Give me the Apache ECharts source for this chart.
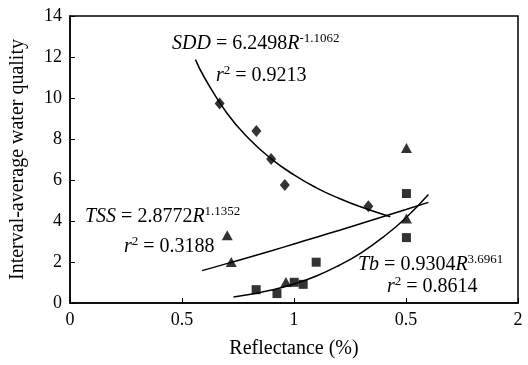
<!DOCTYPE html>
<html>
<head>
<meta charset="utf-8">
<script src="https://cdn.jsdelivr.net/npm/echarts@6/dist/echarts.min.js"></script>
<style>
  html, body { margin: 0; padding: 0; background: #fff; }
  #chart { width: 528px; height: 365px; }
</style>
</head>
<body>
<div id="chart"></div>
<script>
// measured points
var sddX = [0.668, 0.832, 0.898, 0.959, 1.332];
var sddY = [9.73, 8.39, 7.02, 5.76, 4.72];
var tssX = [0.702, 0.72, 0.964, 1.502, 1.502];
var tssY = [3.30, 2.00, 1.02, 7.56, 4.12];
var tbX = [0.831, 0.924, 1.001, 1.041, 1.099, 1.502, 1.502];
var tbY = [0.65, 0.46, 1.01, 0.91, 1.99, 5.34, 3.19];

// fitted curves
var sddFitX = [0.56, 0.6, 0.7, 0.8, 0.9, 1.0, 1.1, 1.2, 1.3, 1.43];
var sddFitY = [11.87, 11.00, 9.27, 8.00, 7.02, 6.25, 5.62, 5.11, 4.68, 4.21];
var tssFitX = [0.59, 0.7, 0.8, 0.9, 1.0, 1.1, 1.2, 1.3, 1.4, 1.5, 1.6];
var tssFitY = [1.58, 1.92, 2.23, 2.55, 2.88, 3.21, 3.54, 3.88, 4.22, 4.56, 4.91];
var tbFitX = [0.73, 0.8, 0.9, 1.0, 1.1, 1.2, 1.3, 1.4, 1.5, 1.6];
var tbFitY = [0.29, 0.41, 0.63, 0.93, 1.32, 1.83, 2.45, 3.23, 4.16, 5.29];

// tick labels as printed on the figure
var xTickLabels = {'0': '0', '0.5': '0.5', '1': '1', '1.5': '0.5', '2': '2'};

function zip(xs, ys) {
    var out = [];
    for (var i = 0; i < xs.length; i++) out.push([xs[i], ys[i]]);
    return out;
}

var font = '"Liberation Serif", "Times New Roman", serif';
var eqRich = {
    i: {fontFamily: font, fontSize: 20, fontStyle: 'italic', color: '#000', lineHeight: 22, verticalAlign: 'bottom'},
    n: {fontFamily: font, fontSize: 20, color: '#000', lineHeight: 22, verticalAlign: 'bottom'},
    s: {fontFamily: font, fontSize: 13, color: '#000', lineHeight: 13, verticalAlign: 'top'}
};

function eqText(left, top, str) {
    return {
        type: 'text', left: left, top: top,
        style: {text: str, rich: eqRich, fill: '#000'}
    };
}

var myChart = echarts.init(document.getElementById('chart'));

var lineStyle = {color: '#000', width: 1.5};

var option = {
    animation: false,
    backgroundColor: '#fff',
    grid: {
        left: 68, right: 10, top: 16, bottom: 62,
        show: true, borderColor: '#000', borderWidth: 1.5
    },
    xAxis: {
        type: 'value', min: 0, max: 2, interval: 0.5,
        name: 'Reflectance (%)', nameLocation: 'middle', nameGap: 36,
        nameTextStyle: {fontFamily: font, fontSize: 20, color: '#000'},
        axisLine: {lineStyle: {color: '#000', width: 1.5}},
        axisTick: {inside: true, length: 5, lineStyle: {color: '#000'}},
        axisLabel: {
            fontFamily: font, fontSize: 18, color: '#000', margin: 8,
            formatter: function (v) { return xTickLabels[String(v)]; }
        },
        splitLine: {show: false}
    },
    yAxis: {
        type: 'value', min: 0, max: 14, interval: 2,
        name: 'Interval-average water quality', nameLocation: 'middle', nameGap: 42,
        nameTextStyle: {fontFamily: font, fontSize: 20, color: '#000'},
        axisLine: {lineStyle: {color: '#000', width: 1.5}},
        axisTick: {inside: true, length: 5, lineStyle: {color: '#000'}},
        axisLabel: {fontFamily: font, fontSize: 18, color: '#000', margin: 8},
        splitLine: {show: false}
    },
    graphic: [
        eqText(172, 32, '{i|SDD}{n| = 6.2498}{i|R}{s|-1.1062}'),
        eqText(216, 64, '{i|r}{s|2}{n| = 0.9213}'),
        eqText(85, 205, '{i|TSS}{n| = 2.8772}{i|R}{s|1.1352}'),
        eqText(124, 235, '{i|r}{s|2}{n| = 0.3188}'),
        eqText(358, 253, '{i|Tb}{n| = 0.9304}{i|R}{s|3.6961}'),
        eqText(387, 275, '{i|r}{s|2}{n| = 0.8614}')
    ],
    series: [
        {type: 'line', data: zip(sddFitX, sddFitY), smooth: true, showSymbol: false, lineStyle: lineStyle, z: 1},
        {type: 'line', data: zip(tssFitX, tssFitY), smooth: true, showSymbol: false, lineStyle: lineStyle, z: 1},
        {type: 'line', data: zip(tbFitX, tbFitY), smooth: true, showSymbol: false, lineStyle: lineStyle, z: 1},
        {type: 'scatter', data: zip(sddX, sddY), symbol: 'diamond', symbolSize: [10, 12], itemStyle: {color: '#000'}, z: 3},
        {type: 'scatter', data: zip(tssX, tssY), symbol: 'triangle', symbolSize: [11, 10], itemStyle: {color: '#000'}, z: 3},
        {type: 'scatter', data: zip(tbX, tbY), symbol: 'rect', symbolSize: 9, itemStyle: {color: '#000'}, z: 3}
    ]
};

myChart.setOption(option);
</script>
</body>
</html>
